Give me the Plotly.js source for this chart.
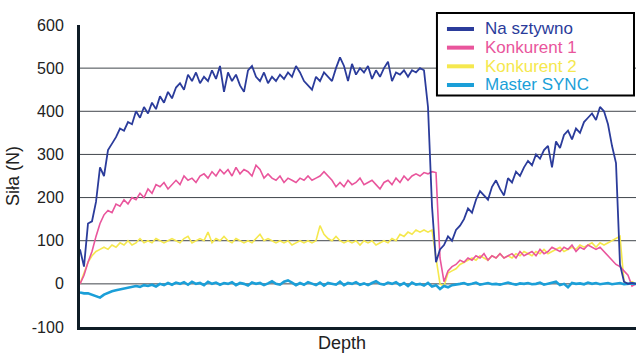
<!DOCTYPE html>
<html>
<head>
<meta charset="utf-8">
<script src="https://cdn.plot.ly/plotly-3.0.1.min.js"></script>
<style>html,body{margin:0;padding:0;background:#fff;}#chart{width:638px;height:356px;}</style>
</head>
<body>
<div id="chart"></div>
<script>
// Depth positions (arbitrary units)
const depth = [];
for (let d = 0; d <= 556; d += 4) depth.push(d);

const seriesNames = ["Na sztywno", "Konkurent 1", "Konkurent 2", "Master SYNC"];

const naSztywno = [80,40,140,145,190,270,250,310,325,340,360,355,375,370,400,385,410,395,420,405,
435,420,445,430,455,465,450,485,470,490,465,480,470,495,475,505,445,490,470,485,
460,445,495,505,480,470,490,465,480,470,485,475,490,480,505,490,470,460,450,480,
470,490,480,470,500,525,505,470,510,485,500,490,505,475,495,480,500,515,470,490,
485,495,480,495,490,500,495,410,180,50,80,90,110,100,125,135,150,175,165,195,
215,205,195,225,240,220,205,245,235,260,250,270,285,275,300,290,310,320,270,330,
315,345,355,335,360,350,375,385,395,380,410,400,370,320,280,45,5,0,2,0];

const konkurent1 = [0,20,50,75,110,140,160,170,165,185,180,195,185,200,195,210,200,220,210,230,
225,235,220,230,240,230,250,240,245,235,250,255,245,260,250,265,255,265,250,270,
255,265,260,250,275,265,245,255,245,240,250,235,245,240,235,245,240,250,240,245,
250,260,250,240,225,235,225,240,230,235,245,230,235,240,230,220,235,240,230,245,
235,250,240,250,255,250,258,255,260,258,60,5,30,40,45,55,50,60,55,65,
60,70,55,65,60,70,60,65,70,60,75,65,70,75,65,80,70,75,85,80,
75,85,80,90,75,85,80,90,85,80,85,75,65,55,45,40,30,20,-5,0];

const konkurent2 = [0,25,50,65,75,80,85,80,90,85,95,90,100,90,95,105,95,100,95,105,
100,95,100,105,100,95,105,110,95,100,105,100,120,95,105,100,110,100,95,105,
100,95,100,95,105,115,100,105,100,95,100,95,100,90,95,100,95,100,95,100,
135,115,105,100,110,100,95,100,95,100,90,100,95,100,90,95,100,95,105,100,
115,110,120,115,125,120,125,120,125,60,0,-5,25,30,35,45,50,55,60,55,
65,60,55,65,60,70,60,65,60,70,65,75,70,65,75,70,80,70,75,80,
85,75,80,85,80,90,85,90,95,85,95,90,95,100,105,110,5,0,5,0];

const masterSync = [-20,-22,-22,-25,-28,-32,-25,-20,-17,-15,-13,-12,-10,-8,-5,-7,-3,-5,-2,-6,
0,-3,2,-2,3,0,4,-2,5,0,2,-3,5,0,3,-2,2,0,4,-3,
2,0,-4,3,0,2,-3,1,6,0,-2,5,8,3,-3,2,-2,4,0,-3,
3,-4,2,0,-2,5,-3,2,0,4,-2,1,-3,2,6,0,-2,3,0,4,
-3,2,-5,3,-2,0,-4,2,-6,-3,-12,-5,-8,-3,-2,0,2,-2,0,3,
-2,0,2,-1,0,-2,1,3,0,-2,1,0,2,-1,0,3,-2,0,2,5,
-3,0,-8,2,0,1,-1,3,0,2,-1,0,2,-1,0,2,-1,0,1,0];

const colors = ["#2b3c9b", "#e9559c", "#f5e84e", "#1b9fd8"];
const widths = [1.8, 1.6, 1.6, 2.6];
const values = [naSztywno, konkurent1, konkurent2, masterSync];

const yTicks = [-100, 0, 100, 200, 300, 400, 500, 600];
const gridValues = [0, 100, 200, 300, 400, 500];

// draw order back-to-front
const drawOrder = [2, 1, 3, 0];
const traces = drawOrder.map(i => ({
  x: depth, y: values[i], type: "scatter", mode: "lines",
  name: seriesNames[i],
  line: {color: colors[i], width: widths[i]},
  showlegend: false, hoverinfo: "skip"
}));

const shapes = gridValues.map(v => ({
  type: "line", xref: "paper", yref: "y", x0: 0, x1: 1, y0: v, y1: v,
  line: {color: "#41464c", width: 1}, layer: "below"
}));

// Legend box (built from series names and colours)
const legX0 = 0.642, legX1 = 0.9964, legY0 = 0.7666, legY1 = 1.0397;
shapes.push({
  type: "rect", xref: "paper", yref: "paper",
  x0: legX0, x1: legX1, y0: legY0, y1: legY1,
  fillcolor: "#ffffff", line: {color: "#000000", width: 2}, layer: "above"
});
const annotations = [];
const legTop = 0.9868, legStep = 0.0618;
seriesNames.forEach((nm, i) => {
  const yy = legTop - i * legStep;
  shapes.push({
    type: "line", xref: "paper", yref: "paper",
    x0: 0.660, x1: 0.7086, y0: yy, y1: yy,
    line: {color: colors[i], width: 4}, layer: "above"
  });
  annotations.push({
    xref: "paper", yref: "paper", x: 0.7248, y: yy,
    xanchor: "left", yanchor: "middle", showarrow: false,
    text: nm, font: {size: 17, color: colors[i]}
  });
});
// x-axis title
annotations.push({
  xref: "paper", yref: "paper", x: 0.471, y: -0.0927,
  xanchor: "center", yanchor: "bottom", showarrow: false,
  text: "Depth", font: {size: 18, color: "#222"}
});

const layout = {
  width: 638, height: 356,
  margin: {l: 80, r: 2, t: 25, b: 29},
  paper_bgcolor: "#ffffff", plot_bgcolor: "#ffffff",
  font: {family: "Liberation Sans, Arial, sans-serif", size: 16, color: "#222"},
  showlegend: false,
  xaxis: {
    range: [0, 556], showgrid: false, zeroline: false,
    showline: true, linewidth: 3, linecolor: "#0f1c26",
    showticklabels: false, ticks: ""
  },
  yaxis: {
    range: [-100, 600], tickvals: yTicks, ticktext: yTicks.map(String),
    showgrid: false, zeroline: false,
    showline: true, linewidth: 3, linecolor: "#0f1c26",
    ticks: "", ticklabelstandoff: 10,
    tickfont: {size: 16, color: "#222"},
    title: {text: "Siła (N)", font: {size: 18, color: "#222"}, standoff: 8}
  },
  shapes: shapes,
  annotations: annotations
};

Plotly.newPlot("chart", traces, layout, {displayModeBar: false, staticPlot: true});
</script>
</body>
</html>
